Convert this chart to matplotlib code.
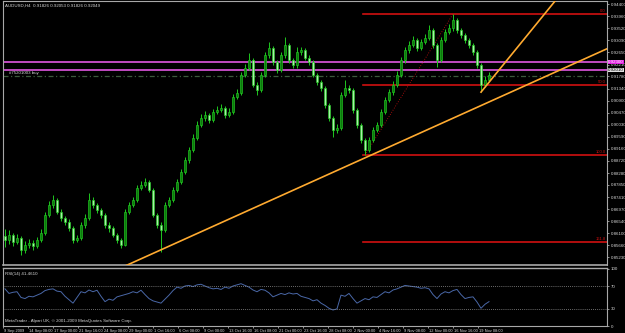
import numpy as np
import matplotlib.pyplot as plt
import matplotlib.transforms as mtransforms

plt.rcParams["font.family"] = ["Liberation Sans Narrow", "Liberation Sans", "DejaVu Sans"]

title_text = "AUDUSD,H4  0.91826 0.92053 0.91826 0.92049"
rsi_text = "RSI(14) 41.4610"
copyright_text = "MetaTrader - Alpari UK, \u00a9 2001-2009 MetaQuotes Software Corp."

# candles (each bar here stands for ~2.5 real H4 bars)
first_open = 0.8600
closes = [
    0.8586, 0.8604, 0.8578, 0.8593, 0.8550, 0.8568, 0.8575, 0.8564, 0.8586, 0.8611,
    0.8676, 0.8712, 0.8730, 0.8687, 0.8665, 0.8651, 0.8629, 0.8586, 0.8593, 0.8640,
    0.8665, 0.8730, 0.8712, 0.8694, 0.8676, 0.8640, 0.8629, 0.8604, 0.8586, 0.8568,
    0.8687, 0.8712, 0.8730, 0.8774, 0.8785, 0.8796, 0.8767, 0.8676, 0.8640, 0.8622,
    0.8712, 0.8730, 0.8767, 0.8796, 0.8832, 0.8875, 0.8911, 0.8955, 0.9002, 0.9027,
    0.9038, 0.9020, 0.9049, 0.9056, 0.9064, 0.9038, 0.9049, 0.9103, 0.9118, 0.9183,
    0.9208, 0.9237, 0.9147, 0.9129, 0.9183, 0.9255, 0.9280, 0.9230, 0.9201, 0.9255,
    0.9292, 0.9237, 0.9219, 0.9266, 0.9273, 0.9245, 0.9230, 0.9183, 0.9158, 0.9136,
    0.9074, 0.9027, 0.8984, 0.8991, 0.9111, 0.9136, 0.9129, 0.9056, 0.9002, 0.8948,
    0.8911, 0.8948, 0.8984, 0.9002, 0.9049, 0.9092, 0.9121, 0.9147, 0.9183, 0.9237,
    0.9273, 0.9292, 0.9310, 0.9280, 0.9302, 0.9317, 0.9346, 0.9292, 0.9237, 0.9310,
    0.9339, 0.9353, 0.9382, 0.9346, 0.9328, 0.9310, 0.9292, 0.9266, 0.9219, 0.9147,
    0.9165, 0.9183,
]
highs = [
    0.8625, 0.8620, 0.8612, 0.8608, 0.8600, 0.8582, 0.8590, 0.8584, 0.8598, 0.8626,
    0.8688, 0.8725, 0.8749, 0.8738, 0.8696, 0.8674, 0.8660, 0.8635, 0.8605, 0.8652,
    0.8678, 0.8756, 0.8740, 0.8720, 0.8702, 0.8684, 0.8650, 0.8636, 0.8612, 0.8594,
    0.8696, 0.8724, 0.8742, 0.8786, 0.8798, 0.8810, 0.8804, 0.8774, 0.8685, 0.8650,
    0.8722, 0.8742, 0.8778, 0.8808, 0.8844, 0.8886, 0.8924, 0.8968, 0.9015, 0.9040,
    0.9052, 0.9046, 0.9060, 0.9070, 0.9078, 0.9072, 0.9062, 0.9115, 0.9132, 0.9195,
    0.9222, 0.9263, 0.9244, 0.9156, 0.9194, 0.9266, 0.9302, 0.9288, 0.9238, 0.9266,
    0.9321, 0.9300, 0.9246, 0.9284, 0.9286, 0.9280, 0.9254, 0.9238, 0.9190, 0.9166,
    0.9144, 0.9082, 0.9034, 0.9004, 0.9120, 0.9165, 0.9146, 0.9136, 0.9064, 0.9010,
    0.8956, 0.8960, 0.8996, 0.9014, 0.9060, 0.9104, 0.9134, 0.9160, 0.9196, 0.9248,
    0.9286, 0.9305, 0.9324, 0.9318, 0.9315, 0.9330, 0.9364, 0.9352, 0.9300, 0.9322,
    0.9350, 0.9366, 0.9404, 0.9390, 0.9354, 0.9336, 0.9318, 0.9300, 0.9272, 0.9226,
    0.9178, 0.9195,
]
lows = [
    0.8560, 0.8572, 0.8565, 0.8570, 0.8532, 0.8540, 0.8558, 0.8550, 0.8556, 0.8578,
    0.8605, 0.8668, 0.8700, 0.8678, 0.8655, 0.8640, 0.8618, 0.8575, 0.8578, 0.8585,
    0.8630, 0.8658, 0.8700, 0.8684, 0.8665, 0.8630, 0.8616, 0.8595, 0.8574, 0.8558,
    0.8562, 0.8680, 0.8704, 0.8724, 0.8766, 0.8776, 0.8758, 0.8668, 0.8630, 0.8542,
    0.8615, 0.8704, 0.8722, 0.8760, 0.8788, 0.8825, 0.8866, 0.8904, 0.8948, 0.8994,
    0.9018, 0.9008, 0.9012, 0.9040, 0.9048, 0.9028, 0.9030, 0.9042, 0.9095, 0.9110,
    0.9175, 0.9200, 0.9138, 0.9111, 0.9122, 0.9175, 0.9246, 0.9220, 0.9190, 0.9194,
    0.9246, 0.9228, 0.9208, 0.9210, 0.9256, 0.9236, 0.9220, 0.9174, 0.9148, 0.9126,
    0.9064, 0.9016, 0.8959, 0.8972, 0.8984, 0.9102, 0.9118, 0.9046, 0.8992, 0.8938,
    0.8893, 0.8904, 0.8940, 0.8975, 0.8995, 0.9042, 0.9084, 0.9112, 0.9140, 0.9176,
    0.9228, 0.9264, 0.9284, 0.9270, 0.9272, 0.9294, 0.9308, 0.9282, 0.9212, 0.9230,
    0.9302, 0.9330, 0.9344, 0.9336, 0.9318, 0.9300, 0.9282, 0.9256, 0.9208, 0.9121,
    0.9138, 0.9158,
]

rsi = [
    65, 57, 59, 60, 50, 48, 52, 51, 54, 57, 62, 64, 65, 61, 60, 52, 46, 40, 50, 60,
    58, 63, 60, 62.6, 52, 42.6, 47, 45, 51, 53, 55, 57, 60, 58, 62.6, 55, 48, 44, 42, 40,
    47, 54, 62, 68, 66, 70, 71, 69, 72, 73, 70, 67, 65, 66, 64, 68, 66, 70, 72, 74,
    71, 68, 63, 60, 64, 62.6, 58, 51, 54, 57, 55, 58, 56, 57, 52, 50, 48, 44, 46, 40,
    36, 31, 28, 30, 54, 52, 57, 48, 40, 44, 48, 46, 51, 50, 55, 60, 58, 63, 65, 68,
    71, 70, 69, 68, 66, 67, 65, 55, 48, 56, 60, 58, 62, 64, 55, 48, 50, 51, 42, 31,
    38, 42.6,
]

price_ticks = [0.94400, 0.93960, 0.93520, 0.93090, 0.92650, 0.92210, 0.91780, 0.91340,
               0.90900, 0.90470, 0.90030, 0.89590, 0.89160, 0.88720, 0.88280, 0.87850,
               0.87410, 0.86970, 0.86540, 0.86100, 0.85660, 0.85230]

time_labels = ["9 Sep 2009", "14 Sep 08:00", "17 Sep 00:00", "21 Sep 16:00", "24 Sep 08:00",
               "29 Sep 00:00", "1 Oct 16:00", "6 Oct 08:00", "9 Oct 00:00", "13 Oct 16:00",
               "16 Oct 08:00", "21 Oct 00:00", "23 Oct 16:00", "28 Oct 08:00", "2 Nov 00:00",
               "4 Nov 16:00", "9 Nov 08:00", "12 Nov 00:00", "16 Nov 16:00", "19 Nov 08:00"]
bars_per_label = 6.25

# fibonacci from the Nov low to the Nov high
fib_low_bar, fib_low = 90, 0.8893
fib_high_bar, fib_high = 112, 0.9404
fib_levels = [0.0, 50.0, 100.0, 161.8]

magenta_levels = [0.9230, 0.9201]
magenta_labels = ["0.92300", "0.92010"]
order_price = 0.9179
order_text = "#75201003 buy"

trend_main = [(29.5, 0.8488), (150.5, 0.9278)]
trend_steep = [(119.0, 0.9121), (137.75, 0.9455)]

axis_grey = "#a8a8a8"
txt_col = "#d8d8d8"
fs = 3.2

fig = plt.figure(figsize=(6.25, 3.33), dpi=100, facecolor="black")
ax = fig.add_axes([3 / 625, 1 - 265 / 333, 604 / 625, 264 / 333], facecolor="black")
ax2 = fig.add_axes([3 / 625, 1 - 326 / 333, 604 / 625, 58 / 333], facecolor="black")

n = len(closes)
x = np.arange(n)
opens = [first_open] + closes[:-1]

# candles
ax.vlines(x, lows, highs, color="#1ec81e", lw=0.7, zorder=3)
for i in range(n):
    o, c = opens[i], closes[i]
    bull = c >= o
    ax.bar(i, max(abs(c - o), 0.00015), bottom=min(o, c), width=0.72,
           facecolor="#0c7a0c" if bull else "#a8f0a8", edgecolor="#22cc22",
           lw=0.45, zorder=4)

# horizontal levels
for lv in magenta_levels:
    ax.axhline(lv, color="#d050d0", lw=1.3, zorder=2)
ax.axhline(order_price, color="#3c5a3c", lw=0.9, ls=(0, (4, 2, 1, 2)), zorder=2)
ax.text(1, order_price + 0.0004, order_text, color=txt_col, fontsize=fs, va="bottom", ha="left")

fr = fib_high - fib_low
for lev in fib_levels:
    p = fib_high - lev / 100 * fr
    ax.plot([fib_low_bar - 0.5, 150.5], [p, p], color="#d01010", lw=1.2, zorder=2)
    ax.text(150.2, p + 0.0003, "%.1f" % lev, color="#d01010", fontsize=fs - 0.2,
            ha="right", va="bottom")
ax.plot([fib_low_bar, fib_high_bar], [fib_low, fib_high], color="#d01010", lw=0.6,
        ls=(0, (1, 2)), zorder=2)

for line in (trend_main, trend_steep):
    ax.plot([line[0][0], line[1][0]], [line[0][1], line[1][1]], color="#ffaa30",
            lw=1.2, zorder=5, clip_on=True)

ax.set_xlim(-0.5, 150.5)
ax.set_ylim(0.8495, 0.9451)
ax.yaxis.tick_right()
ax.set_yticks(price_ticks)
ax.set_yticklabels(["%.5f" % t for t in price_ticks])
ax.tick_params(axis="y", colors=axis_grey, labelcolor=txt_col, labelsize=fs,
               length=1.5, width=0.6, pad=1)
ax.set_xticks([])
for s in ax.spines.values():
    s.set_color(axis_grey)
    s.set_linewidth(0.8)
ax.spines["bottom"].set_linewidth(1.2)

ax.text(0.003, 0.992, title_text, transform=ax.transAxes, color=txt_col,
        fontsize=fs, va="top", ha="left")

# price boxes on the scale
ytr = ax.get_yaxis_transform()
ax.text(1.002, magenta_levels[0], magenta_labels[0], transform=ytr, fontsize=fs,
        color="white", va="center", ha="left", zorder=10,
        bbox=dict(boxstyle="square,pad=0.1", fc="#e020e0", ec="none"))
ax.text(1.002, magenta_levels[1], magenta_labels[1], transform=ytr, fontsize=fs,
        color="black", va="center", ha="left", zorder=10,
        bbox=dict(boxstyle="square,pad=0.1", fc="#e0e0e0", ec="none"))

# RSI panel
ax2.plot(x, rsi, color="#4a68a8", lw=0.7)
for lv in (70, 30):
    ax2.axhline(lv, color="#909090", lw=0.6, ls=(0, (1, 1.5)))
ax2.set_xlim(-0.5, 150.5)
ax2.set_ylim(0, 101.5)
ax2.yaxis.tick_right()
ax2.set_yticks([100, 70, 30, 0])
ax2.set_yticklabels(["100", "70", "30", "0"])
ax2.tick_params(axis="y", colors=axis_grey, labelcolor=txt_col, labelsize=fs,
                length=1.5, width=0.6, pad=1)
tick_pos = [k * bars_per_label - 0.5 for k in range(len(time_labels))]
ax2.set_xticks(tick_pos)
ax2.set_xticklabels(time_labels)
ax2.tick_params(axis="x", colors=axis_grey, labelcolor=txt_col, labelsize=fs - 0.3,
                length=1.5, width=0.6, pad=0.5)
shift = mtransforms.ScaledTranslation(1 / 100, 0, fig.dpi_scale_trans)
for lab in ax2.get_xticklabels():
    lab.set_horizontalalignment("left")
    lab.set_transform(lab.get_transform() + shift)
for s in ax2.spines.values():
    s.set_color(axis_grey)
    s.set_linewidth(0.8)
ax2.spines["top"].set_linewidth(1.0)

ax2.text(0.003, 0.93, rsi_text, transform=ax2.transAxes, color=txt_col,
         fontsize=fs, va="top", ha="left")
ax2.text(0.003, 0.06, copyright_text, transform=ax2.transAxes, color=txt_col,
         fontsize=fs, va="bottom", ha="left")

fig.savefig("out.png", dpi=100, facecolor="black")
